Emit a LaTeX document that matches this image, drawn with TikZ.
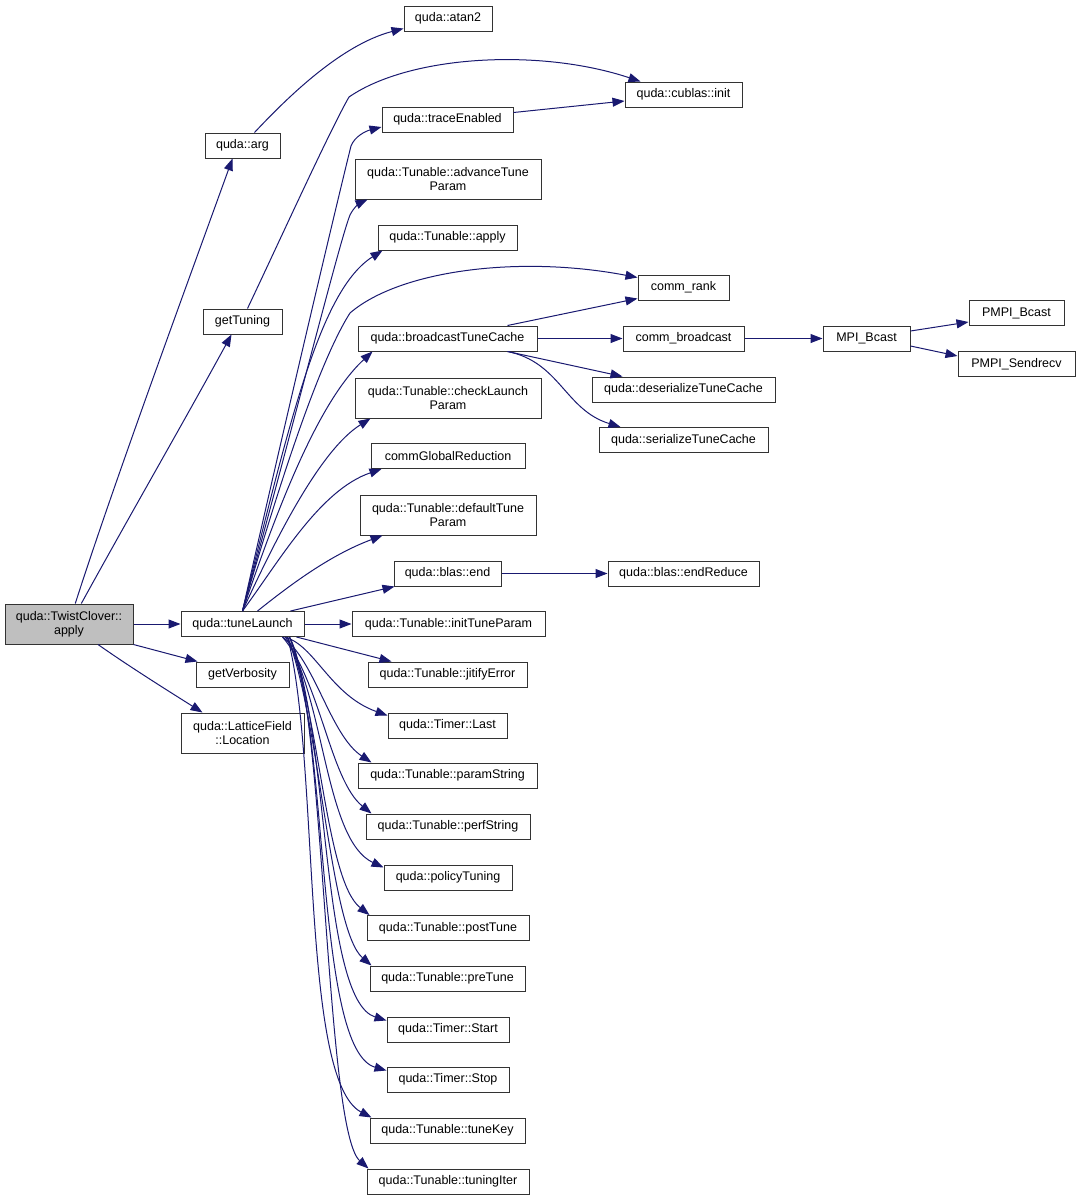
\documentclass[tikz,border=0pt]{standalone}
\usepackage{fontspec}
\setmainfont{Liberation Sans}
\usepackage{tikz}
\usetikzlibrary{arrows.meta}
\definecolor{callblue}{HTML}{191970}
\definecolor{rootgray}{HTML}{BFBFBF}
\begin{document}
\begin{tikzpicture}[x=1pt,y=-1pt,
        fn/.style={draw=black!80,line width=1pt,inner sep=0pt,align=center,minimum height=25pt,font=\fontsize{12.5}{14}\selectfont},
        call/.style={draw=callblue,line width=1pt,-{Triangle[length=12pt,width=9pt]},fill=none}]
            \useasboundingbox (0,0) rectangle (1079,1200);
            % nodes
            \node[fn,minimum width=128pt,minimum height=40pt,fill=rootgray] (apply) at (69,624) {quda::TwistClover::\\apply};
            \node[fn,minimum width=123pt] (tune) at (242.5,624) {quda::tuneLaunch};
            \node[fn,minimum width=93pt] (verb) at (242.5,674.5) {getVerbosity};
            \node[fn,minimum width=123pt,minimum height=40pt] (loc) at (242.5,733) {quda::LatticeField\\::Location};
            \node[fn,minimum width=75pt] (arg) at (242.5,145.5) {quda::arg};
            \node[fn,minimum width=79pt] (gett) at (242.5,321.5) {getTuning};
            \node[fn,minimum width=88pt] (atan) at (448,18.5) {quda::atan2};
            \node[fn,minimum width=117pt] (cinit) at (683.5,94.5) {quda::cublas::init};
            \node[fn,minimum width=131pt] (trace) at (447.5,119.5) {quda::traceEnabled};
            \node[fn,minimum width=186pt,minimum height=40pt] (advtp) at (448,179) {quda::Tunable::advanceTune\\Param};
            \node[fn,minimum width=139pt] (tapply) at (447.5,237.5) {quda::Tunable::apply};
            \node[fn,minimum width=91pt] (crank) at (683.5,287.5) {comm\_rank};
            \node[fn,minimum width=179pt] (bcast) at (447.5,338.5) {quda::broadcastTuneCache};
            \node[fn,minimum width=121pt] (cbcast) at (683.5,338.5) {comm\_broadcast};
            \node[fn,minimum width=87pt] (mpib) at (866.5,338.5) {MPI\_Bcast};
            \node[fn,minimum width=95pt] (pmpib) at (1016.5,313) {PMPI\_Bcast};
            \node[fn,minimum width=117pt] (pmpis) at (1016.5,364) {PMPI\_Sendrecv};
            \node[fn,minimum width=183pt] (deser) at (683.5,389.5) {quda::deserializeTuneCache};
            \node[fn,minimum width=169pt] (ser) at (683.5,440) {quda::serializeTuneCache};
            \node[fn,minimum width=186pt,minimum height=40pt] (chklp) at (448,398) {quda::Tunable::checkLaunch\\Param};
            \node[fn,minimum width=154pt] (cgr) at (448,456) {commGlobalReduction};
            \node[fn,minimum width=176pt,minimum height=40pt] (deftp) at (448,515) {quda::Tunable::defaultTune\\Param};
            \node[fn,minimum width=107pt] (bend) at (447.5,573.5) {quda::blas::end};
            \node[fn,minimum width=151pt] (bered) at (683.5,573.5) {quda::blas::endReduce};
            \node[fn,minimum width=193pt] (inittp) at (448.5,624) {quda::Tunable::initTuneParam};
            \node[fn,minimum width=159pt] (jit) at (447.5,674.5) {quda::Tunable::jitifyError};
            \node[fn,minimum width=119pt] (tlast) at (447.5,725.5) {quda::Timer::Last};
            \node[fn,minimum width=179pt] (pstr) at (447.5,775.5) {quda::Tunable::paramString};
            \node[fn,minimum width=164pt] (perf) at (448,826.5) {quda::Tunable::perfString};
            \node[fn,minimum width=128pt] (pol) at (448,877.5) {quda::policyTuning};
            \node[fn,minimum width=162pt] (post) at (448,928) {quda::Tunable::postTune};
            \node[fn,minimum width=155pt] (pre) at (447.5,978.5) {quda::Tunable::preTune};
            \node[fn,minimum width=122pt] (tstart) at (448,1029.5) {quda::Timer::Start};
            \node[fn,minimum width=122pt] (tstop) at (448,1079.5) {quda::Timer::Stop};
            \node[fn,minimum width=155pt] (tkey) at (447.5,1130.5) {quda::Tunable::tuneKey};
            \node[fn,minimum width=162pt] (titer) at (448,1181.5) {quda::Tunable::tuningIter};
            % calls from apply
            \draw[call] (apply.73) .. controls (115,480) and (185,290) .. ([xshift=-10pt]arg.south);
            \draw[call] (apply.59) .. controls (130,515) and (182,425) .. ([xshift=-11pt]gett.south);
            \draw[call] (apply.east) -- (tune.west);
            \draw[call] (apply.south east) -- ([xshift=2pt]verb.north west);
            \draw[call] ([xshift=29pt]apply.south) .. controls (130,667) and (170,692) .. ([xshift=22pt]loc.north west);
            \draw[call] ([xshift=12pt]arg.north) .. controls (285,100) and (340,45) .. ([yshift=-10pt]atan.west);
            \draw[call] ([xshift=5pt]gett.north) .. controls (280,240) and (330,130) .. (349,97) .. controls (410,55) and (540,48) .. ([xshift=16pt]cinit.north west);
            \draw[call] ([yshift=7pt]trace.east) -- ([yshift=-6.5pt]cinit.west);
            % calls from tuneLaunch, upwards
            \draw[call] (tune.north) .. controls (290,400) and (340,190) .. (351,146) .. controls (355,136) and (366,131) .. ([yshift=-7.5pt]trace.west);
            \draw[call] (tune.north) .. controls (300,400) and (340,240) .. (350,215) .. controls (354,207) and (360,203) .. ([xshift=13pt]advtp.south west);
            \draw[call] (tune.north) .. controls (290,420) and (320,290) .. ([xshift=5pt]tapply.south west);
            \draw[call] (tune.north) .. controls (280,480) and (320,360) .. (350,313) .. controls (400,270) and (520,255) .. ([yshift=-3pt]crank.north west);
            \draw[call] (tune.north) .. controls (280,500) and (320,400) .. ([xshift=15pt]bcast.south west);
            \draw[call] (tune.north) .. controls (275,540) and (320,450) .. ([xshift=16pt]chklp.south west);
            \draw[call] (tune.north) .. controls (280,560) and (320,490) .. ([xshift=11pt]cgr.south west);
            \draw[call] ([xshift=15pt]tune.north) .. controls (290,585) and (330,555) .. ([xshift=23pt]deftp.south west);
            \draw[call] ([xshift=48pt]tune.north) -- ([xshift=1pt]bend.south west);
            \draw[call] (tune.east) -- (inittp.west);
            % calls from tuneLaunch, downwards
            \draw[call] ([xshift=54pt]tune.south) -- ([xshift=24pt]jit.north west);
            \draw[call] ([xshift=42pt]tune.south) .. controls (315,645) and (330,695) .. ([yshift=-3pt]tlast.north west);
            \draw[call] ([xshift=40pt]tune.south) .. controls (315,660) and (330,735) .. ([xshift=14pt]pstr.north west);
            \draw[call] ([xshift=40pt]tune.south) .. controls (320,680) and (330,780) .. ([xshift=6pt]perf.north west);
            \draw[call] ([xshift=43pt]tune.south) .. controls (325,700) and (325,840) .. ([yshift=-3pt]pol.north west);
            \draw[call] ([xshift=45pt]tune.south) .. controls (320,710) and (325,880) .. ([xshift=3pt]post.north west);
            \draw[call] ([xshift=45pt]tune.south) .. controls (320,720) and (330,930) .. ([xshift=2pt]pre.north west);
            \draw[call] ([xshift=47pt]tune.south) .. controls (330,730) and (320,1000) .. ([yshift=-4pt]tstart.north west);
            \draw[call] ([xshift=47pt]tune.south) .. controls (330,740) and (315,1050) .. ([yshift=-4pt]tstop.north west);
            \draw[call] ([xshift=45pt]tune.south) .. controls (320,760) and (300,1080) .. ([xshift=2pt]tkey.north west);
            \draw[call] ([xshift=47pt]tune.south) .. controls (325,700) and (325,1130) .. ([xshift=2pt]titer.north west);
            % calls further right
            \draw[call] ([xshift=60pt]bcast.north) -- ([yshift=2pt]crank.south west);
            \draw[call] (bcast.east) -- (cbcast.west);
            \draw[call] ([xshift=60pt]bcast.south) -- ([xshift=31pt]deser.north west);
            \draw[call] ([xshift=60pt]bcast.south) .. controls (560,362) and (565,410) .. ([xshift=22pt]ser.north west);
            \draw[call] (cbcast.east) -- (mpib.west);
            \draw[call] ([yshift=7.5pt]mpib.east) -- ([yshift=4pt]pmpib.south west);
            \draw[call] ([yshift=-7.5pt]mpib.east) -- ([yshift=-5pt]pmpis.north west);
            \draw[call] (bend.east) -- (bered.west);
        \end{tikzpicture}
\end{document}
